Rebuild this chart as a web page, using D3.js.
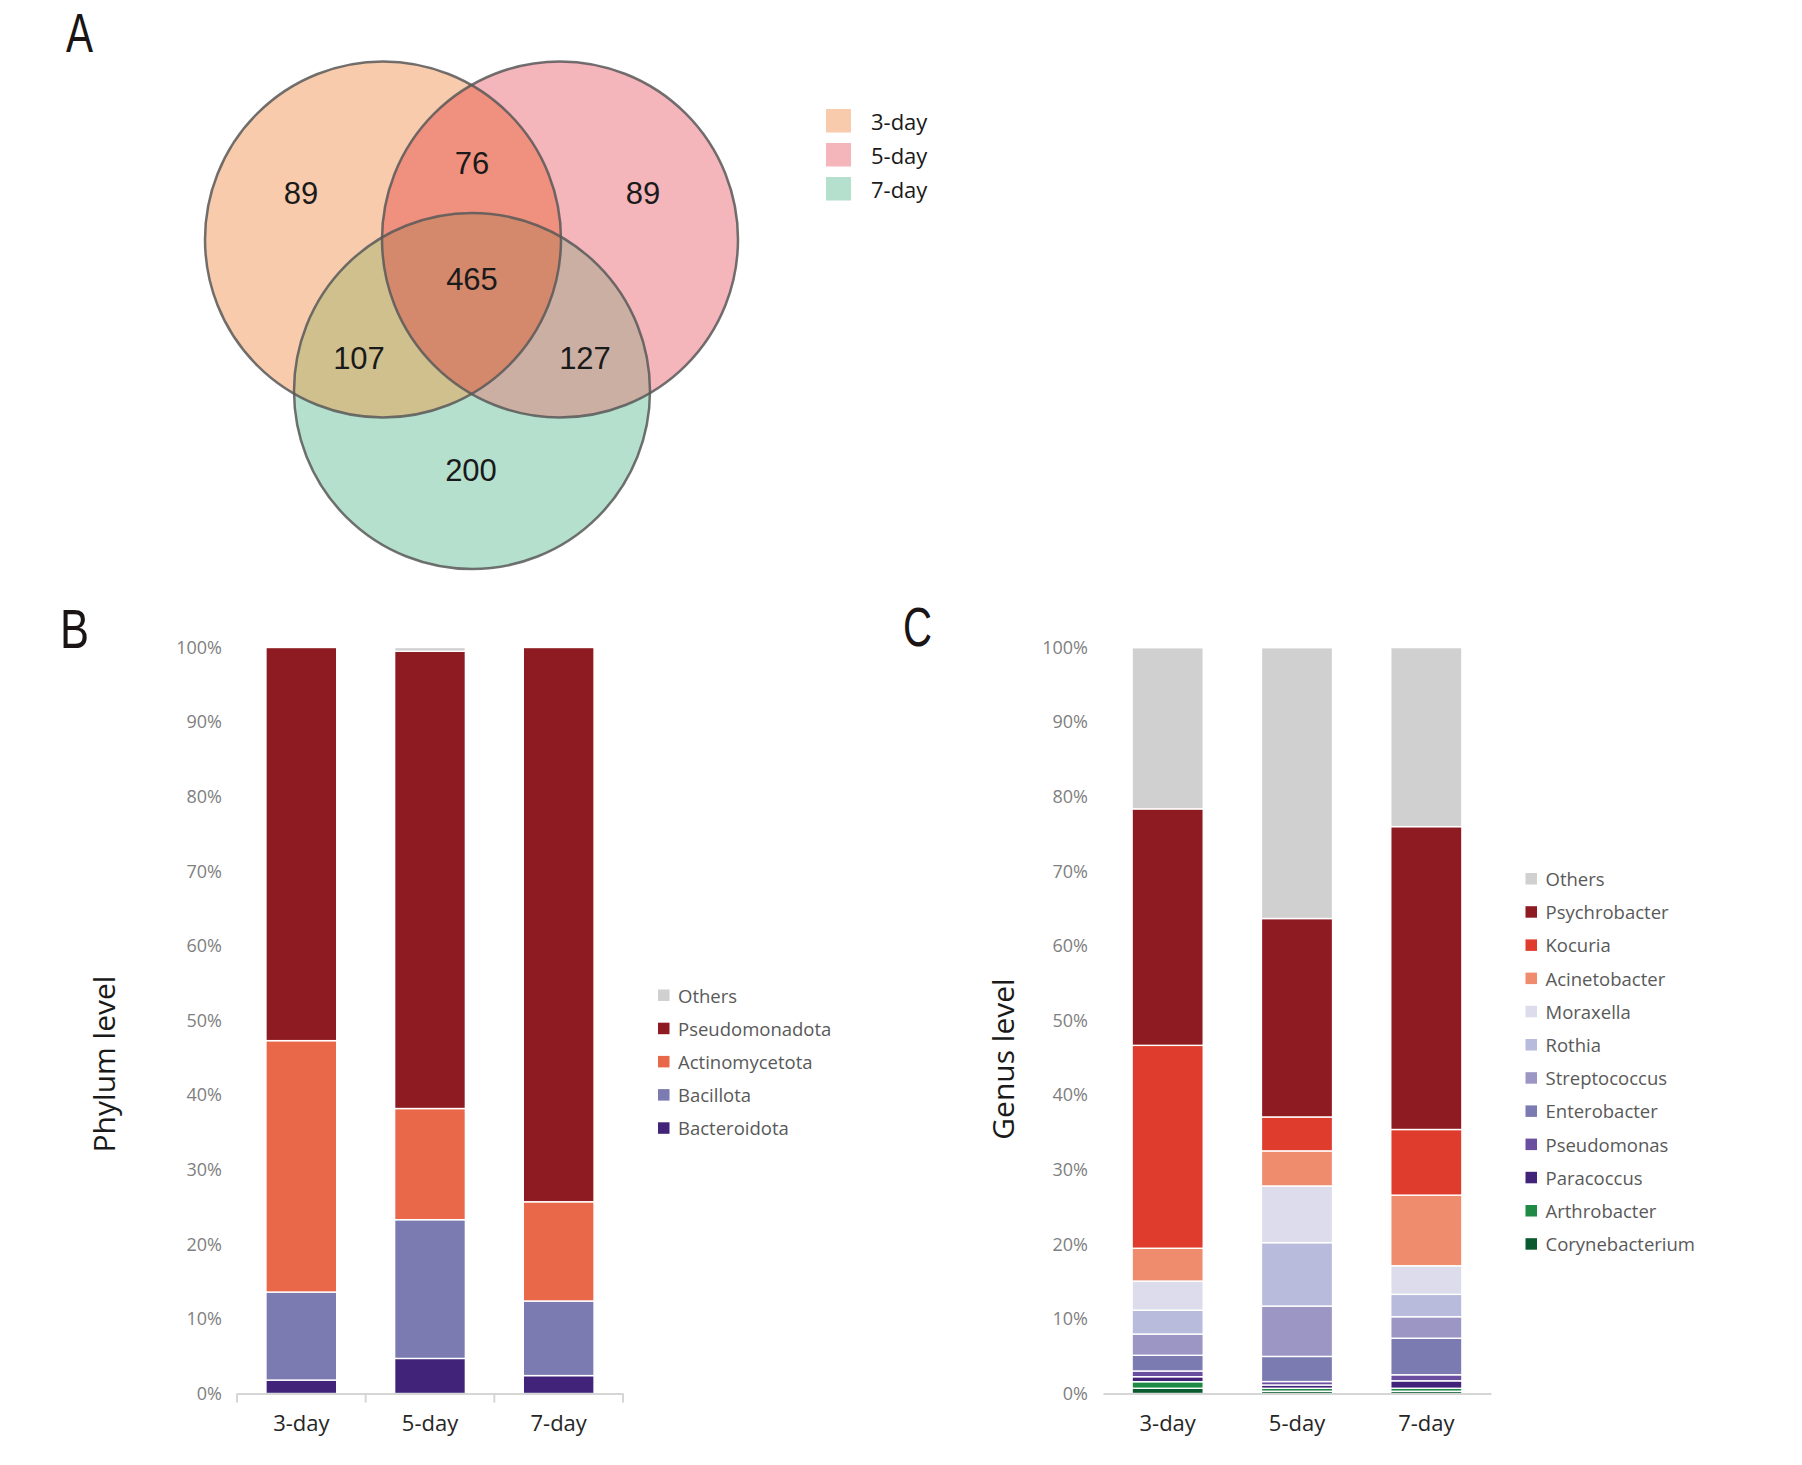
<!DOCTYPE html>
<html>
<head>
<meta charset="utf-8">
<script src="https://cdn.jsdelivr.net/npm/d3@7"></script>
<style>
  html, body { margin: 0; padding: 0; background: #fff; }
  svg { display: block; font-family: "Open Sans", "Noto Sans", sans-serif; }
</style>
</head>
<body>
<svg id="chart" width="1802" height="1465"></svg>
<script>
// ---------------- DATA ----------------
// Venn (panel A)
const vennSets = ["3-day", "5-day", "7-day"];
const vennRegionLabels = ["only3", "only5", "only7", "s35", "s37", "s57", "s357"];
const vennRegionCounts = [89, 89, 200, 76, 107, 127, 465];

// Stacked bars: categories
const days = ["3-day", "5-day", "7-day"];
const yTickLabels = ["0%", "10%", "20%", "30%", "40%", "50%", "60%", "70%", "80%", "90%", "100%"];

// Panel B – phylum level (percent), bottom to top
const phylumNames = ["Bacteroidota", "Bacillota", "Actinomycetota", "Pseudomonadota", "Others"];
const bacteroidota   = [1.8, 4.7, 2.4];
const bacillota      = [11.8, 18.6, 10.0];
const actinomycetota = [33.7, 14.9, 13.3];
const pseudomonadota = [52.7, 61.3, 74.3];
const phylumOthers   = [0.0, 0.5, 0.0];

// Panel C – genus level (percent), bottom to top
const genusNames = ["Corynebacterium", "Arthrobacter", "Paracoccus", "Pseudomonas", "Enterobacter",
  "Streptococcus", "Rothia", "Moraxella", "Acinetobacter", "Kocuria", "Psychrobacter", "Others"];
const corynebacterium = [0.7, 0.3, 0.3];
const arthrobacter    = [0.88, 0.4, 0.4];
const paracoccus      = [0.67, 0.44, 1.0];
const pseudomonas     = [0.77, 0.46, 0.81];
const enterobacter    = [2.1, 3.37, 4.9];
const streptococcus   = [2.85, 6.75, 2.88];
const rothia          = [3.2, 8.5, 3.0];
const moraxella       = [3.9, 7.6, 3.83];
const acinetobacter   = [4.4, 4.7, 9.47];
const kocuria         = [27.2, 4.55, 8.8];
const psychrobacter   = [31.7, 26.6, 40.6];
const genusOthers     = [21.6, 36.3, 24.0];

// ---------------- STYLE ----------------
const vennColors = {
  only3: "#F8CBAD", only5: "#F4B5BB", only7: "#B4E0CD",
  s35: "#F0917F", s37: "#CFC08E", s57: "#CBAFA3", s357: "#D4896D"
};
const phylumColors = ["#41237a", "#7b7bb1", "#ea684a", "#8f1b22", "#d0d0d0"];
const genusColors = ["#0b5a2f", "#1f8a45", "#41237a", "#6a4ea0", "#7b7bb1", "#9b96c4",
  "#b8bbdb", "#dcdcec", "#ef8c6e", "#e03c2d", "#8f1b22", "#d0d0d0"];

const svg = d3.select("#chart");

// ---------------- PANEL LETTERS ----------------
function panelLetter(txt, x, y, w) {
  svg.append("text").attr("x", x).attr("y", y)
    .style("font-family", "'Liberation Sans', Arial, sans-serif")
    .style("font-size", "55px").attr("fill", "#1a1414")
    .attr("textLength", w).attr("lengthAdjust", "spacingAndGlyphs")
    .text(txt);
}
panelLetter("A", 66, 51.5, 27);
panelLetter("B", 60, 648, 29);
panelLetter("C", 903, 646, 29);

// ---------------- PANEL A: VENN ----------------
const R = 178;
const centers = [
  { x: 383, y: 239.5 },
  { x: 560, y: 239.5 },
  { x: 472, y: 391 }
];
const defs = svg.append("defs");
defs.append("clipPath").attr("id", "clip3").append("circle")
  .attr("cx", centers[0].x).attr("cy", centers[0].y).attr("r", R);
defs.append("clipPath").attr("id", "clip5").append("circle")
  .attr("cx", centers[1].x).attr("cy", centers[1].y).attr("r", R);
defs.append("clipPath").attr("id", "clip35").append("circle")
  .attr("cx", centers[1].x).attr("cy", centers[1].y).attr("r", R)
  .attr("clip-path", "url(#clip3)");

const venn = svg.append("g");
function vcircle(i, fill, clip) {
  const c = venn.append("circle")
    .attr("cx", centers[i].x).attr("cy", centers[i].y).attr("r", R)
    .attr("fill", fill);
  if (clip) c.attr("clip-path", `url(#${clip})`);
}
vcircle(0, vennColors.only3);
vcircle(1, vennColors.only5);
vcircle(2, vennColors.only7);
vcircle(1, vennColors.s35, "clip3");
vcircle(2, vennColors.s37, "clip3");
vcircle(2, vennColors.s57, "clip5");
vcircle(2, vennColors.s357, "clip35");
centers.forEach((c, i) => {
  venn.append("circle").attr("cx", c.x).attr("cy", c.y).attr("r", R)
    .attr("fill", "none").attr("stroke", "#585858").attr("stroke-width", 2.5)
    .attr("stroke-opacity", 0.85);
});

const vennLabelPos = {
  only3: [301, 193], only5: [643, 193], only7: [471, 470],
  s35: [472, 163], s37: [359, 358], s57: [585, 358], s357: [472, 279]
};
vennRegionLabels.forEach((k, i) => {
  venn.append("text")
    .attr("x", vennLabelPos[k][0]).attr("y", vennLabelPos[k][1])
    .attr("text-anchor", "middle").attr("dominant-baseline", "central")
    .style("font-family", "'Liberation Sans', Arial, sans-serif")
    .style("font-size", "31px").attr("fill", "#1a1a1a")
    .text(vennRegionCounts[i]);
});

// Venn legend
const vennLegendColors = [vennColors.only3, vennColors.only5, vennColors.only7];
const vl = svg.append("g");
vennSets.forEach((s, i) => {
  const y0 = 109 + i * 34;
  vl.append("rect").attr("x", 826).attr("y", y0).attr("width", 25).attr("height", 23.5)
    .attr("fill", vennLegendColors[i]);
  vl.append("text").attr("x", 871).attr("y", y0 + 12).attr("dominant-baseline", "central")
    .style("font-size", "22px").attr("fill", "#1a1a1a").text(s);
});

// ---------------- STACKED BAR PANELS ----------------
const yScale = d3.scaleLinear().domain([0, 100]).range([1393.5, 647.5]);

function stackedPanel(opts) {
  const { names, series, colors, x0, x1, legendX, legendY, title, titleX, titleY, ticks } = opts;
  const table = days.map((d, j) => {
    const row = { day: d };
    names.forEach((n, i) => { row[n] = series[i][j]; });
    return row;
  });
  const stacked = d3.stack().keys(names)(table);
  const x = d3.scaleBand().domain(days).range([x0, x1]).paddingInner(0.45).paddingOuter(0.225);
  const band = d3.scaleBand().domain(days).range([x0, x1]);
  const g = svg.append("g");

  // bars
  stacked.forEach((layer, i) => {
    g.append("g").selectAll("rect")
      .data(layer.filter(d => d[1] - d[0] > 0))
      .join("rect")
      .attr("x", d => x(d.data.day))
      .attr("width", x.bandwidth())
      .attr("y", d => yScale(d[1]))
      .attr("height", d => yScale(d[0]) - yScale(d[1]))
      .attr("fill", colors[i])
      .attr("stroke", "#ffffff").attr("stroke-width", 1.4);
  });

  // y axis (labels only)
  const yAxis = d3.axisLeft(yScale)
    .tickValues(d3.range(0, 101, 10))
    .tickFormat((d, i) => yTickLabels[i])
    .tickSize(0).tickPadding(15);
  const ya = g.append("g").attr("transform", `translate(${x0},0)`).call(yAxis);
  ya.select(".domain").remove();
  ya.selectAll("text").style("font-family", "'Open Sans', sans-serif")
    .style("font-size", "18px").attr("fill", "#7f7f7f");

  // x axis
  const xa = g.append("g").attr("transform", `translate(0,${yScale(0)})`)
    .call(d3.axisBottom(band).tickSize(0).tickPadding(22));
  xa.select(".domain").attr("stroke", "#d6d6d6").attr("stroke-width", 2);
  xa.selectAll("text").style("font-family", "'Open Sans', sans-serif")
    .style("font-size", "22px").attr("fill", "#262626");
  if (ticks) {
    const bounds = [x0].concat(days.map(d => band(d) + band.bandwidth()));
    g.append("g").selectAll("line").data(bounds).join("line")
      .attr("x1", d => d).attr("x2", d => d)
      .attr("y1", yScale(0)).attr("y2", yScale(0) + 9)
      .attr("stroke", "#d6d6d6").attr("stroke-width", 2);
  }

  // title
  g.append("text")
    .attr("transform", `translate(${titleX},${titleY}) rotate(-90)`)
    .attr("text-anchor", "middle").attr("dominant-baseline", "central")
    .style("font-size", "30px").attr("fill", "#1a1a1a").text(title);

  // legend (top item = last stacked key)
  const legendOrder = names.slice().reverse();
  const legendCols = colors.slice().reverse();
  const lg = g.append("g");
  legendOrder.forEach((n, i) => {
    const cy = legendY + i * 33.2;
    lg.append("rect").attr("x", legendX).attr("y", cy - 5.5).attr("width", 11.5).attr("height", 11.5)
      .attr("fill", legendCols[i]);
    lg.append("text").attr("x", legendX + 20).attr("y", cy).attr("dominant-baseline", "central")
      .style("font-size", "18.5px").attr("fill", "#595959").text(n);
  });
}

stackedPanel({
  names: phylumNames,
  series: [bacteroidota, bacillota, actinomycetota, pseudomonadota, phylumOthers],
  colors: phylumColors,
  x0: 237, x1: 623,
  legendX: 658, legendY: 995,
  title: "Phylum level", titleX: 103, titleY: 1064,
  ticks: true
});

stackedPanel({
  names: genusNames,
  series: [corynebacterium, arthrobacter, paracoccus, pseudomonas, enterobacter, streptococcus,
           rothia, moraxella, acinetobacter, kocuria, psychrobacter, genusOthers],
  colors: genusColors,
  x0: 1103, x1: 1491,
  legendX: 1525.5, legendY: 878.5,
  title: "Genus level", titleX: 1002, titleY: 1059,
  ticks: false
});
</script>
</body>
</html>
